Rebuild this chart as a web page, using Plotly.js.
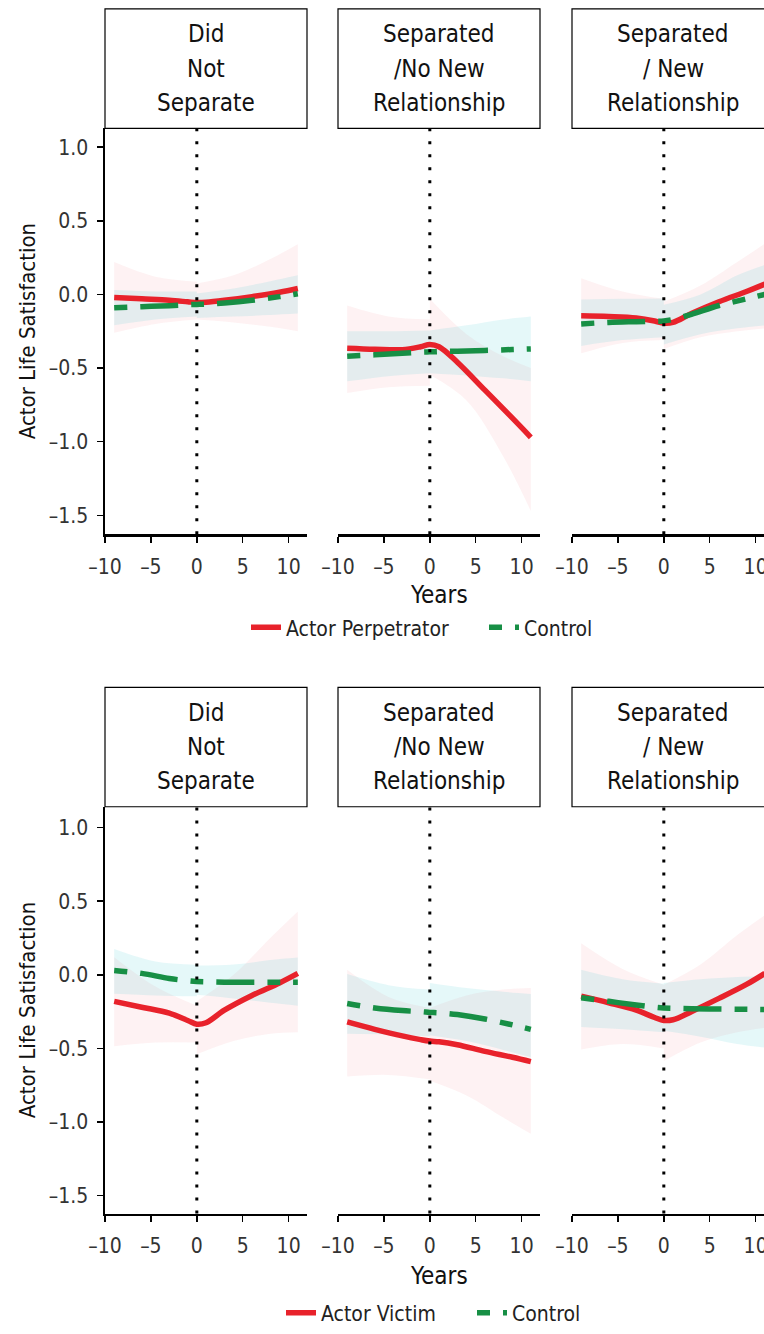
<!DOCTYPE html>
<html>
<head>
<meta charset="utf-8">
<script src="https://cdn.plot.ly/plotly-3.0.1.min.js"></script>
<style>
html, body { margin: 0; padding: 0; overflow: hidden; background: #fff; width: 764px; }
#chart { width: 780px; height: 1334px; }
</style>
</head>
<body>
<div id="chart"></div>
<script>
// values
const panelLabels = [['Did', 'Not', 'Separate'], ['Separated', '/No New', 'Relationship'], ['Separated', '/ New', 'Relationship']]
const xTicks = [-10, -5, 0, 5, 10]
const yTicks = [-1.5, -1.0, -0.5, 0, 0.5, 1.0]
const years = [-9, -6, -3, -1, 0, 1, 3, 6, 9, 11]
// band points: first 3 before separation, last 4 after
const bandX = [-9, -4.5, 0, 0, 4, 8, 11]

// top figure: actor perpetrator
const pNS_actor = [-0.02, -0.03, -0.04, -0.05, -0.055, -0.053, -0.04, -0.015, 0.015, 0.04]
const pNS_ctrl = [-0.09, -0.083, -0.076, -0.07, -0.068, -0.066, -0.058, -0.04, -0.015, 0.005]
const pNS_actorHi = [0.22, 0.12, 0.086, 0.075, 0.13, 0.24, 0.34]
const pNS_actorLo = [-0.26, -0.2, -0.17, -0.17, -0.19, -0.22, -0.25]
const pNS_ctrlHi = [0.03, 0.02, 0.02, 0.007, 0.04, 0.09, 0.13]
const pNS_ctrlLo = [-0.21, -0.17, -0.15, -0.16, -0.15, -0.14, -0.13]

const pSN_actor = [-0.365, -0.372, -0.375, -0.355, -0.34, -0.355, -0.46, -0.65, -0.84, -0.97]
const pSN_ctrl = [-0.42, -0.41, -0.40, -0.392, -0.39, -0.388, -0.385, -0.38, -0.374, -0.37]
const pSN_actorHi = [-0.075, -0.149, -0.17, -0.03, -0.27, -0.42, -0.50]
const pSN_actorLo = [-0.67, -0.63, -0.62, -0.545, -0.72, -1.1, -1.47]
const pSN_ctrlHi = [-0.25, -0.25, -0.245, -0.245, -0.21, -0.17, -0.15]
const pSN_ctrlLo = [-0.59, -0.555, -0.535, -0.535, -0.55, -0.57, -0.59]

const pSR_actor = [-0.145, -0.15, -0.16, -0.18, -0.195, -0.19, -0.13, -0.05, 0.02, 0.07]
const pSR_ctrl = [-0.20, -0.19, -0.185, -0.182, -0.18, -0.17, -0.135, -0.075, -0.03, 0.0]
const pSR_actorHi = [0.11, 0.02, -0.03, -0.05, 0.06, 0.22, 0.345]
const pSR_actorLo = [-0.40, -0.33, -0.31, -0.37, -0.29, -0.25, -0.23]
const pSR_ctrlHi = [-0.035, -0.03, -0.027, -0.07, 0.0, 0.13, 0.2]
const pSR_ctrlLo = [-0.35, -0.31, -0.29, -0.34, -0.27, -0.23, -0.21]

// bottom figure: actor victim
const vNS_actor = [-0.18, -0.22, -0.26, -0.31, -0.335, -0.325, -0.24, -0.14, -0.055, 0.01]
const vNS_ctrl = [0.03, 0.01, -0.025, -0.04, -0.045, -0.047, -0.05, -0.05, -0.05, -0.05]
const vNS_actorHi = [0.12, -0.08, -0.21, -0.18, 0.0, 0.25, 0.43]
const vNS_actorLo = [-0.485, -0.46, -0.46, -0.54, -0.45, -0.40, -0.39]
const vNS_ctrlHi = [0.175, 0.09, 0.068, 0.063, 0.07, 0.1, 0.117]
const vNS_ctrlLo = [-0.128, -0.14, -0.146, -0.135, -0.16, -0.19, -0.21]

const vSN_actor = [-0.32, -0.37, -0.415, -0.44, -0.45, -0.455, -0.475, -0.52, -0.56, -0.59]
const vSN_ctrl = [-0.195, -0.225, -0.243, -0.25, -0.255, -0.258, -0.27, -0.30, -0.34, -0.37]
const vSN_actorHi = [0.034, -0.15, -0.225, -0.225, -0.14, -0.10, -0.09]
const vSN_actorLo = [-0.69, -0.68, -0.71, -0.72, -0.82, -0.97, -1.08]
const vSN_ctrlHi = [0.005, -0.07, -0.10, -0.056, -0.09, -0.115, -0.13]
const vSN_ctrlLo = [-0.40, -0.405, -0.417, -0.41, -0.45, -0.51, -0.56]

const vSR_actor = [-0.145, -0.19, -0.24, -0.29, -0.31, -0.305, -0.25, -0.16, -0.065, 0.01]
const vSR_ctrl = [-0.155, -0.18, -0.205, -0.22, -0.225, -0.227, -0.23, -0.232, -0.234, -0.235]
const vSR_actorHi = [0.214, 0.04, -0.068, -0.068, 0.07, 0.27, 0.405]
const vSR_actorLo = [-0.507, -0.47, -0.50, -0.586, -0.46, -0.39, -0.36]
const vSR_ctrlHi = [0.034, -0.03, -0.06, -0.056, -0.03, -0.015, -0.01]
const vSR_ctrlLo = [-0.354, -0.37, -0.39, -0.38, -0.42, -0.47, -0.495]

const W = 780, H = 1334
const FONT = '"DejaVu Sans Condensed", "Liberation Sans Narrow", sans-serif'
const RED = '#e8222b'
const GREEN = '#178f45'
const RED_FILL = 'rgba(232,34,43,0.06)'
const CTRL_FILL = 'rgba(40,195,205,0.12)'

const cols = [[105, 307], [338, 540], [572, 774]]
const rows = [
    {stripTop: 9, top: 129, bottom: 537, yRange: [-1.628, 1.128], yearsY: 598,
     legendY: 631, actorKeyX: 246, ctrlKeyX: 484,
     actorName: 'Actor Perpetrator',
     actor: [pNS_actor, pSN_actor, pSR_actor], ctrl: [pNS_ctrl, pSN_ctrl, pSR_ctrl],
     actorHi: [pNS_actorHi, pSN_actorHi, pSR_actorHi], actorLo: [pNS_actorLo, pSN_actorLo, pSR_actorLo],
     ctrlHi: [pNS_ctrlHi, pSN_ctrlHi, pSR_ctrlHi], ctrlLo: [pNS_ctrlLo, pSN_ctrlLo, pSR_ctrlLo]},
    {stripTop: 691, top: 811, bottom: 1220, yRange: [-1.622, 1.142], yearsY: 1283,
     legendY: 1320, actorKeyX: 281, ctrlKeyX: 472,
     actorName: 'Actor Victim',
     actor: [vNS_actor, vSN_actor, vSR_actor], ctrl: [vNS_ctrl, vSN_ctrl, vSR_ctrl],
     actorHi: [vNS_actorHi, vSN_actorHi, vSR_actorHi], actorLo: [vNS_actorLo, vSN_actorLo, vSR_actorLo],
     ctrlHi: [vNS_ctrlHi, vSN_ctrlHi, vSR_ctrlHi], ctrlLo: [vNS_ctrlLo, vSN_ctrlLo, vSR_ctrlLo]},
]

const px = p => p / W
const py = p => 1 - p / H

function band(xa, ya, hi, lo, color) {
    let out = []
    for (const [a, b] of [[0, 3], [3, 7]]) {
        let base = {x: bandX.slice(a, b), xaxis: xa, yaxis: ya, mode: 'lines',
                    line: {width: 0, shape: 'spline'}, hoverinfo: 'skip', showlegend: false}
        out.push({...base, y: hi.slice(a, b)})
        out.push({...base, y: lo.slice(a, b), fill: 'tonexty', fillcolor: color})
    }
    return out
}

function legendBox(xLeft, yMid) {
    return {
        orientation: 'h', x: px(xLeft), y: py(yMid),
        xanchor: 'left', yanchor: 'middle', bgcolor: 'rgba(0,0,0,0)',
        font: {family: FONT, size: 21, color: '#222'},
    }
}

let data = []
let layout = {
    width: W, height: H,
    margin: {l: 0, r: 0, t: 0, b: 0},
    paper_bgcolor: '#fff', plot_bgcolor: 'rgba(0,0,0,0)',
    font: {family: FONT, color: '#222'},
    shapes: [], annotations: [],
}

rows.forEach((row, r) => {
    let actorLegend = r === 0 ? 'legend' : 'legend3'
    let ctrlLegend = r === 0 ? 'legend2' : 'legend4'

    cols.forEach((col, c) => {
        let k = r * 3 + c + 1
        let xa = 'x' + (k === 1 ? '' : k)
        let ya = 'y' + (k === 1 ? '' : k)

        data.push(...band(xa, ya, row.actorHi[c], row.actorLo[c], RED_FILL))
        data.push(...band(xa, ya, row.ctrlHi[c], row.ctrlLo[c], CTRL_FILL))

        data.push({
            x: years, y: row.actor[c], xaxis: xa, yaxis: ya, mode: 'lines',
            name: row.actorName, legend: actorLegend, showlegend: c === 0,
            line: {color: RED, width: 5.5, shape: 'spline'},
        })
        data.push({
            x: years, y: row.ctrl[c], xaxis: xa, yaxis: ya, mode: 'lines',
            name: 'Control', legend: ctrlLegend, showlegend: c === 0,
            line: {color: GREEN, width: 5.5, shape: 'spline', dash: '13px,13px,38px,13px'},
        })

        layout['xaxis' + (k === 1 ? '' : k)] = {
            domain: [px(col[0]), px(col[1])], anchor: ya,
            range: [-10, 12], tickvals: xTicks, ticktext: xTicks.map(v => v < 0 ? '\u2013' + Math.abs(v) : String(v)),
            ticks: 'outside', ticklen: 6, tickwidth: 1.5, tickcolor: '#000',
            ticklabelstandoff: 6,
            showline: true, linecolor: '#000', linewidth: 2.5,
            showgrid: false, zeroline: false, fixedrange: true,
            tickfont: {family: FONT, size: 21, color: '#333'},
        }
        layout['yaxis' + (k === 1 ? '' : k)] = {
            domain: [py(row.bottom), py(row.top)], anchor: xa,
            range: row.yRange, tickvals: yTicks,
            ticktext: yTicks.map(v => (v < 0 ? '\u2013' : '') + Math.abs(v).toFixed(1)),
            showticklabels: c === 0, ticks: c === 0 ? 'outside' : '',
            ticklen: 6, tickwidth: 1.5, tickcolor: '#000', ticklabelstandoff: 4,
            showline: c === 0, linecolor: '#000', linewidth: 2.5,
            showgrid: false, zeroline: false, fixedrange: true,
            tickfont: {family: FONT, size: 21, color: '#333'},
        }

        // strip box and its three label lines
        layout.shapes.push({
            type: 'rect', xref: 'paper', yref: 'paper',
            x0: px(col[0]), x1: px(col[1]), y0: py(row.top), y1: py(row.stripTop),
            line: {color: '#000', width: 1.2}, fillcolor: '#fff',
        })
        let mid = (row.top + row.stripTop) / 2
        panelLabels[c].forEach((txt, i) => {
            layout.annotations.push({
                xref: 'paper', yref: 'paper', x: px((col[0] + col[1]) / 2), y: py(mid + (i - 1) * 34.5),
                xanchor: 'center', yanchor: 'middle', showarrow: false,
                text: txt, font: {family: FONT, size: 24, color: '#111'},
            })
        })

        // dotted line at separation
        layout.shapes.push({
            type: 'line', xref: xa, yref: ya + ' domain', x0: 0, x1: 0, y0: 0, y1: 1,
            line: {color: '#000', width: 3, dash: '3px,10px'}, layer: 'above',
        })
    })

    layout.annotations.push({
        xref: 'paper', yref: 'paper', x: px(439), y: py(row.yearsY),
        xanchor: 'center', yanchor: 'middle', showarrow: false,
        text: 'Years', font: {family: FONT, size: 24, color: '#111'},
    })
    layout.annotations.push({
        xref: 'paper', yref: 'paper', x: px(27), y: py((row.top + row.bottom) / 2),
        xanchor: 'center', yanchor: 'middle', showarrow: false, textangle: -90,
        text: 'Actor Life Satisfaction', font: {family: FONT, size: 22, color: '#111'},
    })

    layout[actorLegend] = legendBox(row.actorKeyX, row.legendY)
    layout[ctrlLegend] = legendBox(row.ctrlKeyX, row.legendY)
})

Plotly.newPlot('chart', data, layout, {displayModeBar: false, staticPlot: true})
</script>
</body>
</html>
